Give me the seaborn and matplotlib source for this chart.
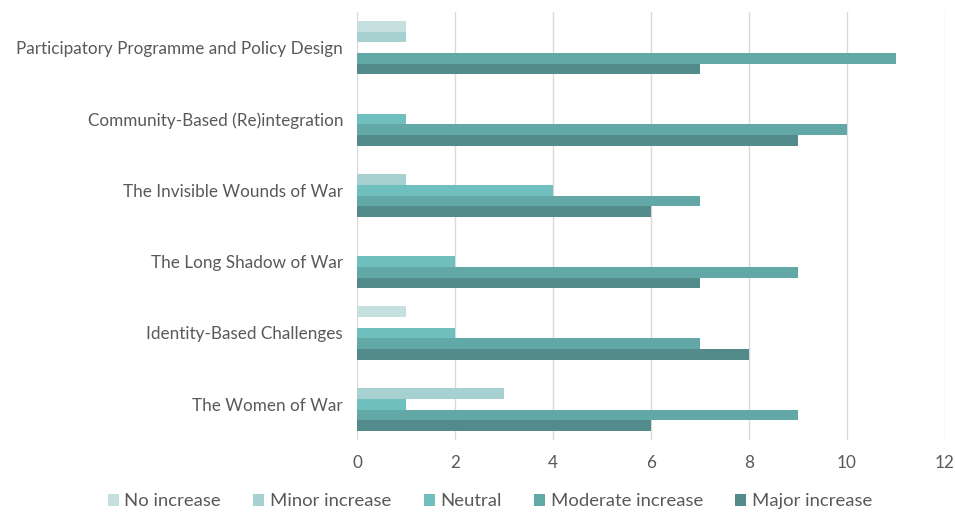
import matplotlib

matplotlib.use("Agg")
import matplotlib.pyplot as plt
import pandas as pd
import seaborn as sns

CATEGORIES = [
    "Participatory Programme and Policy Design",
    "Community-Based (Re)integration",
    "The Invisible Wounds of War",
    "The Long Shadow of War",
    "Identity-Based Challenges",
    "The Women of War",
]
SERIES = ["No increase", "Minor increase", "Neutral", "Moderate increase", "Major increase"]
NO_INCREASE = [1, 0, 0, 0, 1, 0]
MINOR_INCREASE = [1, 0, 1, 0, 0, 3]
NEUTRAL = [0, 1, 4, 2, 2, 1]
MODERATE_INCREASE = [11, 10, 7, 9, 7, 9]
MAJOR_INCREASE = [7, 9, 6, 7, 8, 6]
COLORS = ["#c6e0e0", "#a6d1d0", "#70bfbf", "#62a8a6", "#528b89"]
X_TICKS = [0, 2, 4, 6, 8, 10, 12]

TEXT_COLOR = "#595959"


def build_frame() -> pd.DataFrame:
    values = [NO_INCREASE, MINOR_INCREASE, NEUTRAL, MODERATE_INCREASE, MAJOR_INCREASE]
    rows = []
    for series, vals in zip(SERIES, values):
        for cat, v in zip(CATEGORIES, vals):
            rows.append({"category": cat, "series": series, "count": v})
    return pd.DataFrame(rows)


def main() -> None:
    sns.set_style("white")
    plt.rcParams["font.family"] = ["Lato", "DejaVu Sans"]

    df = build_frame()
    fig = plt.figure(figsize=(9.55, 5.14), dpi=100)
    ax = fig.add_axes([0.3738, 0.144, 0.6157, 0.8326])

    sns.barplot(
        data=df,
        y="category",
        x="count",
        hue="series",
        order=CATEGORIES,
        hue_order=SERIES,
        palette=COLORS,
        orient="h",
        width=0.75,
        saturation=1,
        linewidth=0,
        ax=ax,
    )

    ax.set_xlim(0, 12)
    ax.set_ylim(5.5, -0.5)
    ax.set_xticks(X_TICKS)
    ax.xaxis.grid(True, color="#d9d9d9", linewidth=1)
    ax.set_axisbelow(True)
    for spine in ax.spines.values():
        spine.set_visible(False)
    ax.set_xlabel("")
    ax.set_ylabel("")
    ax.tick_params(axis="both", length=0, labelsize=12.3, colors=TEXT_COLOR)
    ax.tick_params(axis="y", pad=10)
    ax.tick_params(axis="x", pad=11)

    handles, labels = ax.get_legend_handles_labels()
    ax.get_legend().remove()
    fig.legend(
        handles,
        labels,
        loc="center",
        bbox_to_anchor=(0.513, 0.025),
        ncol=5,
        frameon=False,
        fontsize=13.3,
        labelcolor=TEXT_COLOR,
        handlelength=0.6,
        handleheight=0.6,
        handletextpad=0.3,
        columnspacing=1.75,
    )

    fig.savefig("out.png", dpi=100)
    plt.close(fig)


if __name__ == "__main__":
    main()
